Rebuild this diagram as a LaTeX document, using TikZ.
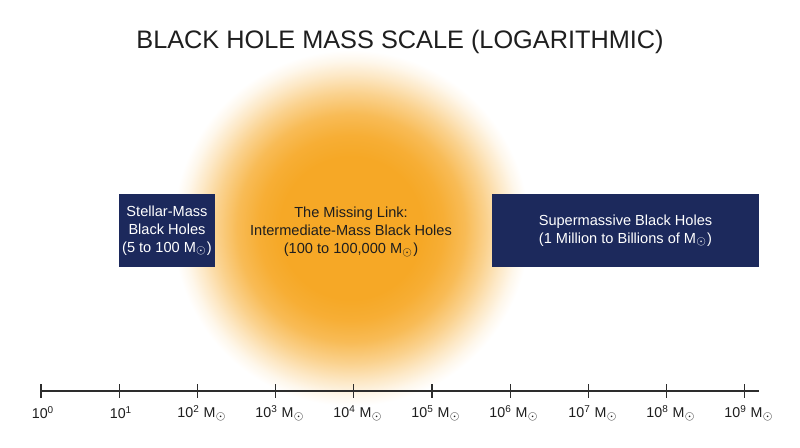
\documentclass[tikz,border=0pt]{standalone}
\usepackage{fontspec}
\setmainfont{Liberation Sans}
\usepackage{tikz}
\usetikzlibrary{positioning}
\definecolor{glowcol}{RGB}{246,168,38}
\definecolor{navybox}{RGB}{28,41,92}
\definecolor{axisgray}{RGB}{45,45,45}
\definecolor{darktext}{RGB}{30,30,30}
\pgfdeclareradialshading{glow}{\pgfpoint{0bp}{0bp}}{color(0bp)=(glowcol); color(10bp)=(glowcol); color(13bp)=(glowcol!93!white); color(16bp)=(glowcol!78!white); color(19bp)=(glowcol!52!white); color(21.5bp)=(glowcol!27!white); color(23.5bp)=(glowcol!9!white); color(25bp)=(white); color(50bp)=(white)}
\newcommand{\Msun}{M\textsubscript{$\odot$}}

\begin{document}
\begin{tikzpicture}[x=0.02cm, y=-0.02cm,
		holebox/.style={fill=navybox, text=white, inner sep=0pt, align=center, font=\fontsize{8.3}{10.2}\selectfont},
		ticklabel/.style={text=darktext, inner sep=0pt, font=\fontsize{8.1}{10}\selectfont},
		tick/.style={line width=0.65pt, color=axisgray}]
		%%%%% START %%%%%
		
		\useasboundingbox[fill=white] (0, 0) rectangle (800, 447);
		
		\node[text=darktext, font=\fontsize{14.4}{16}\selectfont] (title) at (400, 42) {BLACK HOLE MASS SCALE (LOGARITHMIC)};
		
		\shade[shading=glow] (351, 228) circle (178);
		
		\node[holebox, minimum width=1.92cm, minimum height=1.46cm] (stellar) at (167, 230.5) {Stellar-Mass\\Black Holes\\(5 to 100 \Msun)};
		\node[text=darktext, align=center, inner sep=0pt, font=\fontsize{8.3}{10.2}\selectfont] (imbh) at (351, 232) {The Missing Link:\\Intermediate-Mass Black Holes\\(100 to 100,000 \Msun)};
		\node[holebox, minimum width=5.34cm, minimum height=1.46cm] (smbh) at (625.5, 230.5) {Supermassive Black Holes\\(1 Million to Billions of \Msun)};
		
		\coordinate (axL) at (41, 391);
		\coordinate (axR) at (759, 391);
		\draw[tick] (axL) -- (axR);
		
		\draw[tick] (41, 384) -- (41, 398);
		\draw[tick] (119.2, 384) -- (119.2, 398);
		\draw[tick] (197.4, 384) -- (197.4, 398);
		\draw[tick] (275.6, 384) -- (275.6, 398);
		\draw[tick] (353.8, 384) -- (353.8, 398);
		\draw[tick] (432, 384) -- (432, 398);
		\draw[tick] (510.2, 384) -- (510.2, 398);
		\draw[tick] (588.4, 384) -- (588.4, 398);
		\draw[tick] (666.6, 384) -- (666.6, 398);
		\draw[tick] (744.8, 384) -- (744.8, 398);
		
		\node[ticklabel] (m0) at (43, 413) {10\textsuperscript{0}};
		\node[ticklabel] (m1) at (121, 413) {10\textsuperscript{1}};
		\node[ticklabel] (m2) at (202, 413) {10\textsuperscript{2} \Msun};
		\node[ticklabel] (m3) at (280, 413) {10\textsuperscript{3} \Msun};
		\node[ticklabel] (m4) at (358, 413) {10\textsuperscript{4} \Msun};
		\node[ticklabel] (m5) at (436, 413) {10\textsuperscript{5} \Msun};
		\node[ticklabel] (m6) at (514, 413) {10\textsuperscript{6} \Msun};
		\node[ticklabel] (m7) at (593, 413) {10\textsuperscript{7} \Msun};
		\node[ticklabel] (m8) at (671, 413) {10\textsuperscript{8} \Msun};
		\node[ticklabel] (m9) at (749, 413) {10\textsuperscript{9} \Msun};
		
		%%%%% END %%%%%
	\end{tikzpicture}
\end{document}
